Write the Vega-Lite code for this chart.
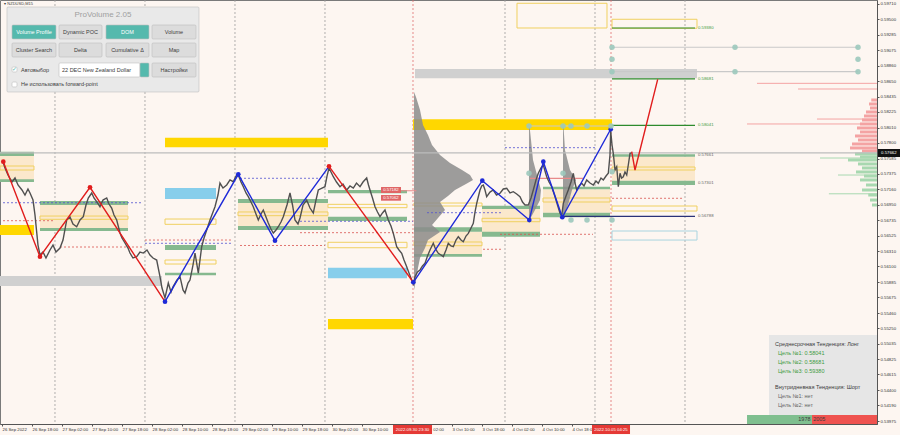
{
"$schema":"https://vega.github.io/schema/vega-lite/v6.json",
"width":877,"height":424,
"autosize":{"type":"none"},
"padding":{"left":0,"top":0,"right":23,"bottom":11},
"background":"#fdf6f1",
"config":{"view":{"stroke":"#7a7a7a","strokeWidth":1},"axis":{"labelFont":"Liberation Sans"},"text":{"font":"Liberation Sans"}},
"datasets":{
"vlines":[
{"h":14.13,"p":0.59765,"p2":0.53934,"kind":"vdot"},{"h":38.13,"p":0.59765,"p2":0.53934,"kind":"vdot"},{"h":62.13,"p":0.59765,"p2":0.53934,"kind":"vdot"},{"h":86.13,"p":0.59765,"p2":0.53934,"kind":"vdot"},{"h":134.13,"p":0.59765,"p2":0.53934,"kind":"vdot"},{"h":158.13,"p":0.59765,"p2":0.53934,"kind":"vdot"},{"h":182.13,"p":0.59765,"p2":0.53934,"kind":"vdot"},
{"h":109.6,"p":0.59765,"p2":0.53934,"kind":"vred"},{"h":162.4,"p":0.59765,"p2":0.53934,"kind":"vred"}],
"dom":[
{"h":201.33,"h2":233.33,"p":0.58619,"kind":"domredthin"},{"h":212.27,"h2":233.33,"p":0.58541,"kind":"domredthin"},{"h":217.33,"h2":233.33,"p":0.58128,"kind":"domredthin"},{"h":198.67,"h2":233.33,"p":0.58060,"kind":"domredthin"},
{"h":231.8,"h2":233.33,"p":0.58390,"kind":"domred"},{"h":231.2,"h2":233.33,"p":0.58335,"kind":"domred"},{"h":231.47,"h2":233.33,"p":0.58280,"kind":"domred"},{"h":230.4,"h2":233.33,"p":0.58225,"kind":"domred"},{"h":229.87,"h2":233.33,"p":0.58170,"kind":"domred"},{"h":229.33,"h2":233.33,"p":0.58115,"kind":"domred"},{"h":228.8,"h2":233.33,"p":0.58060,"kind":"domred"},{"h":228.0,"h2":233.33,"p":0.58005,"kind":"domred"},{"h":228.8,"h2":233.33,"p":0.57950,"kind":"domred"},{"h":227.47,"h2":233.33,"p":0.57895,"kind":"domred"},{"h":228.27,"h2":233.33,"p":0.57840,"kind":"domred"},{"h":226.67,"h2":233.33,"p":0.57785,"kind":"domred"},{"h":226.13,"h2":233.33,"p":0.57730,"kind":"domred"},{"h":229.33,"h2":233.33,"p":0.57688,"kind":"domred"},
{"h":227.47,"h2":233.33,"p":0.57647,"kind":"domgreen"},{"h":228.8,"h2":233.33,"p":0.57606,"kind":"domgreen"},{"h":225.6,"h2":233.33,"p":0.57565,"kind":"domgreen"},{"h":228.27,"h2":233.33,"p":0.57510,"kind":"domgreen"},{"h":229.33,"h2":233.33,"p":0.57455,"kind":"domgreen"},{"h":227.73,"h2":233.33,"p":0.57400,"kind":"domgreen"},{"h":229.87,"h2":233.33,"p":0.57344,"kind":"domgreen"},{"h":228.8,"h2":233.33,"p":0.57290,"kind":"domgreen"},{"h":230.4,"h2":233.33,"p":0.57221,"kind":"domgreen"},{"h":229.33,"h2":233.33,"p":0.57152,"kind":"domgreen"},{"h":231.0,"h2":233.33,"p":0.57083,"kind":"domgreen"},{"h":231.47,"h2":233.33,"p":0.57014,"kind":"domgreen"},{"h":232.0,"h2":233.33,"p":0.56946,"kind":"domgreen"},
{"h":218.13,"h2":233.33,"p":0.57592,"kind":"domgreenthin"},{"h":222.93,"h2":233.33,"p":0.57358,"kind":"domgreenthin"},{"h":220.5,"h2":233.33,"p":0.57100,"kind":"domgreenthin"}],
"zones":[
{"h":-0.53,"h2":8.53,"p":0.57620,"p2":0.57289,"kind":"tan"},{"h":10.13,"h2":33.6,"p":0.56946,"p2":0.56629,"kind":"tan"},{"h":62.93,"h2":86.93,"p":0.56973,"p2":0.56657,"kind":"tan"},{"h":109.87,"h2":128,"p":0.56578,"p2":0.56272,"kind":"tan"},{"h":128,"h2":143.47,"p":0.56891,"p2":0.56565,"kind":"tan"},{"h":144.27,"h2":162.13,"p":0.57162,"p2":0.56840,"kind":"tan"},{"h":162.67,"h2":184.8,"p":0.57610,"p2":0.57280,"kind":"tan"},
{"h":-0.53,"h2":42.67,"p":0.55969,"p2":0.55832,"kind":"gray"},{"h":110.13,"h2":185.33,"p":0.58816,"p2":0.58688,"kind":"gray"},
{"h":-0.53,"h2":8.53,"p":0.56671,"p2":0.56533,"kind":"gold"},{"h":43.47,"h2":86.93,"p":0.57871,"p2":0.57739,"kind":"gold"},{"h":86.93,"h2":109.6,"p":0.55378,"p2":0.55236,"kind":"gold"},{"h":109.6,"h2":162.67,"p":0.58124,"p2":0.57977,"kind":"gold"},
{"h":43.47,"h2":57.07,"p":0.57179,"p2":0.57028,"kind":"sky"},{"h":86.93,"h2":108,"p":0.56083,"p2":0.55938,"kind":"sky"},
{"h":-0.53,"h2":8.53,"p":0.57679,"p2":0.57620,"kind":"green"},{"h":-0.53,"h2":8.53,"p":0.57299,"p2":0.57262,"kind":"green"},{"h":10.13,"h2":33.6,"p":0.57001,"p2":0.56946,"kind":"green"},{"h":10.13,"h2":33.6,"p":0.56629,"p2":0.56588,"kind":"green"},{"h":43.47,"h2":57.07,"p":0.56396,"p2":0.56327,"kind":"green"},{"h":43.47,"h2":57.07,"p":0.56015,"p2":0.55979,"kind":"green"},{"h":62.93,"h2":86.93,"p":0.57028,"p2":0.56973,"kind":"green"},{"h":62.93,"h2":86.93,"p":0.56657,"p2":0.56602,"kind":"green"},{"h":86.93,"h2":108,"p":0.57152,"p2":0.57107,"kind":"green"},{"h":86.93,"h2":108,"p":0.56785,"p2":0.56726,"kind":"green"},{"h":109.87,"h2":128,"p":0.56639,"p2":0.56578,"kind":"green"},{"h":109.87,"h2":128,"p":0.56272,"p2":0.56235,"kind":"green"},{"h":128,"h2":143.47,"p":0.56936,"p2":0.56891,"kind":"green"},{"h":128,"h2":143.47,"p":0.56578,"p2":0.56510,"kind":"green"},{"h":144.27,"h2":162.13,"p":0.57197,"p2":0.57162,"kind":"green"},{"h":144.27,"h2":162.13,"p":0.56840,"p2":0.56779,"kind":"green"},{"h":162.67,"h2":184.8,"p":0.57643,"p2":0.57610,"kind":"green"},{"h":162.67,"h2":184.8,"p":0.57280,"p2":0.57221,"kind":"green"}],
"boxes":[
{"h":-0.53,"h2":8.53,"p":0.57482,"p2":0.57427,"kind":"ybox"},{"h":10.13,"h2":33.6,"p":0.56794,"p2":0.56749,"kind":"ybox"},{"h":43.47,"h2":57.07,"p":0.56753,"p2":0.56680,"kind":"ybox"},{"h":43.47,"h2":57.07,"p":0.56189,"p2":0.56134,"kind":"ybox"},{"h":62.93,"h2":86.93,"p":0.56850,"p2":0.56799,"kind":"ybox"},{"h":86.93,"h2":108,"p":0.56955,"p2":0.56909,"kind":"ybox"},{"h":86.93,"h2":108,"p":0.56433,"p2":0.56358,"kind":"ybox"},{"h":109.87,"h2":128,"p":0.56973,"p2":0.56932,"kind":"ybox"},{"h":109.87,"h2":128,"p":0.56437,"p2":0.56386,"kind":"ybox"},{"h":128,"h2":143.47,"p":0.56763,"p2":0.56716,"kind":"ybox"},{"h":144.27,"h2":162.13,"p":0.57042,"p2":0.56987,"kind":"ybox"},{"h":162.67,"h2":184.8,"p":0.57468,"p2":0.57427,"kind":"ybox"},{"h":162.67,"h2":185.33,"p":0.56932,"p2":0.56863,"kind":"ybox"},{"h":162.67,"h2":185.33,"p":0.59500,"p2":0.59376,"kind":"ybox"},{"h":137.33,"h2":161.33,"p":0.59720,"p2":0.59380,"kind":"ybox"},
{"h":162.67,"h2":185.33,"p":0.56588,"p2":0.56464,"kind":"lbox"}],
"prof":[
{"g":"a","h2":109.87,"h":109.87,"p":0.58500},{"g":"a","h2":109.87,"h":110.4,"p":0.58431},{"g":"a","h2":109.87,"h":111.47,"p":0.58252},{"g":"a","h2":109.87,"h":112.27,"p":0.58046},{"g":"a","h2":109.87,"h":113.6,"p":0.57908},{"g":"a","h2":109.87,"h":114.67,"p":0.57771},{"g":"a","h2":109.87,"h":116.8,"p":0.57633},{"g":"a","h2":109.87,"h":119.47,"p":0.57523},{"g":"a","h2":109.87,"h":122.67,"p":0.57427},{"g":"a","h2":109.87,"h":124.8,"p":0.57358},{"g":"a","h2":109.87,"h":125.6,"p":0.57290},{"g":"a","h2":109.87,"h":123.73,"p":0.57235},{"g":"a","h2":109.87,"h":120.8,"p":0.57152},{"g":"a","h2":109.87,"h":118.93,"p":0.57069},{"g":"a","h2":109.87,"h":116.8,"p":0.56987},{"g":"a","h2":109.87,"h":118.13,"p":0.56877},{"g":"a","h2":109.87,"h":116.27,"p":0.56767},{"g":"a","h2":109.87,"h":114.67,"p":0.56671},{"g":"a","h2":109.87,"h":116.8,"p":0.56574},{"g":"a","h2":109.87,"h":113.6,"p":0.56464},{"g":"a","h2":109.87,"h":112.8,"p":0.56355},{"g":"a","h2":109.87,"h":111.47,"p":0.56217},{"g":"a","h2":109.87,"h":110.93,"p":0.56079},{"g":"a","h2":109.87,"h":110.4,"p":0.55914},{"g":"a","h2":109.87,"h":109.87,"p":0.55777},
{"g":"b","h2":140.53,"h":140.67,"p":0.58032},{"g":"b","h2":140.53,"h":141.07,"p":0.57840},{"g":"b","h2":140.53,"h":141.6,"p":0.57565},{"g":"b","h2":140.53,"h":142.67,"p":0.57358},{"g":"b","h2":140.53,"h":143.73,"p":0.57152},{"g":"b","h2":140.53,"h":143.47,"p":0.57014},{"g":"b","h2":140.53,"h":142.13,"p":0.56877},{"g":"b","h2":140.53,"h":140.67,"p":0.56739},
{"g":"c","h2":149.6,"h":149.73,"p":0.58032},{"g":"c","h2":149.6,"h":150.13,"p":0.57702},{"g":"c","h2":149.6,"h":151.47,"p":0.57427},{"g":"c","h2":149.6,"h":153.07,"p":0.57290},{"g":"c","h2":149.6,"h":152.0,"p":0.57152},{"g":"c","h2":149.6,"h":150.93,"p":0.56946},{"g":"c","h2":149.6,"h":149.73,"p":0.56777}],
"hl":[
{"h":0.27,"h2":37.6,"p":0.56977,"kind":"bluedot"},{"h":0.27,"h2":14.13,"p":0.56730,"kind":"reddot"},{"h":15.47,"h2":37.6,"p":0.56368,"kind":"reddot"},{"h":38.13,"h2":61.6,"p":0.56464,"kind":"reddot"},{"h":38.13,"h2":61.6,"p":0.56419,"kind":"bluedot"},{"h":63.47,"h2":84.8,"p":0.57313,"kind":"bluedot"},{"h":63.47,"h2":86.13,"p":0.56389,"kind":"reddot"},{"h":79.47,"h2":109.6,"p":0.56722,"kind":"bluedot"},{"h":79.47,"h2":109.6,"p":0.56565,"kind":"reddot"},{"h":113.33,"h2":133.6,"p":0.56840,"kind":"bluedot"},{"h":128.27,"h2":133.6,"p":0.56337,"kind":"reddot"},{"h":132.8,"h2":157.6,"p":0.56543,"kind":"reddot"},{"h":134.13,"h2":158.13,"p":0.57734,"kind":"bluedot"},{"h":162.67,"h2":181.6,"p":0.57038,"kind":"reddot"}],
"sl":[
{"h":-0.53,"h2":233.33,"p":0.57662,"kind":"cur"},
{"h":162.67,"h2":184.8,"p":0.59380,"kind":"dgreen"},{"h":162.67,"h2":184.8,"p":0.58681,"kind":"dgreen"},{"h":162.67,"h2":184.8,"p":0.58041,"kind":"dgreen"},
{"h":149.6,"h2":184.8,"p":0.56788,"kind":"navy"},
{"h":162.67,"h2":228.27,"p":0.59115,"kind":"gline"},{"h":162.67,"h2":228.27,"p":0.58779,"kind":"gline"},{"h":140.53,"h2":162.4,"p":0.58032,"kind":"gline"},
{"h":101.6,"h2":110.5,"p":0.57142,"kind":"redthin"},{"h":140.8,"h2":154.93,"p":0.57313,"kind":"redthin"}],
"price":[
{"h":0.27,"p":0.57537},{"h":0.8,"p":0.57455},{"h":1.6,"p":0.57358},{"h":2.67,"p":0.57262},{"h":3.47,"p":0.57317},{"h":4.27,"p":0.57221},{"h":5.33,"p":0.57152},{"h":6.13,"p":0.57083},{"h":6.93,"p":0.57166},{"h":7.47,"p":0.57111},{"h":8.27,"p":0.57014},{"h":8.8,"p":0.56808},{"h":9.6,"p":0.56395},{"h":10.13,"p":0.56258},{"h":10.93,"p":0.56299},{"h":11.73,"p":0.56217},{"h":12.8,"p":0.56327},{"h":13.6,"p":0.56395},{"h":14.4,"p":0.56299},{"h":15.47,"p":0.56354},{"h":16.27,"p":0.56464},{"h":17.25,"p":0.56739},{"h":18.13,"p":0.56781},{"h":18.93,"p":0.56684},{"h":19.92,"p":0.56647},{"h":20.8,"p":0.56739},{"h":21.68,"p":0.56785},{"h":22.4,"p":0.56946},{"h":23.01,"p":0.57042},{"h":23.92,"p":0.57111},{"h":24.53,"p":0.57042},{"h":25.25,"p":0.56991},{"h":26.13,"p":0.56922},{"h":26.93,"p":0.57014},{"h":27.92,"p":0.57042},{"h":28.53,"p":0.56959},{"h":29.25,"p":0.56904},{"h":29.87,"p":0.56808},{"h":30.59,"p":0.56739},{"h":31.47,"p":0.56561},{"h":32.0,"p":0.56492},{"h":32.8,"p":0.56423},{"h":33.6,"p":0.56354},{"h":34.13,"p":0.56285},{"h":34.93,"p":0.56217},{"h":35.92,"p":0.56235},{"h":36.8,"p":0.56299},{"h":37.68,"p":0.56285},{"h":38.67,"p":0.56327},{"h":39.47,"p":0.56258},{"h":40.27,"p":0.56217},{"h":41.25,"p":0.56189},{"h":42.13,"p":0.55960},{"h":42.67,"p":0.55804},{"h":43.47,"p":0.55667},{"h":44.35,"p":0.55873},{"h":45.07,"p":0.55749},{"h":45.6,"p":0.55822},{"h":46.67,"p":0.55914},{"h":47.47,"p":0.55960},{"h":48.27,"p":0.55777},{"h":48.8,"p":0.55735},{"h":49.6,"p":0.55873},{"h":50.13,"p":0.55914},{"h":50.93,"p":0.56120},{"h":51.47,"p":0.56285},{"h":52.35,"p":0.56010},{"h":53.25,"p":0.56372},{"h":53.87,"p":0.56492},{"h":54.59,"p":0.56602},{"h":55.47,"p":0.56739},{"h":56.27,"p":0.56849},{"h":56.8,"p":0.56922},{"h":57.6,"p":0.57083},{"h":58.13,"p":0.57248},{"h":58.93,"p":0.57179},{"h":59.92,"p":0.57221},{"h":60.8,"p":0.57290},{"h":61.68,"p":0.57266},{"h":62.4,"p":0.57344},{"h":63.01,"p":0.57358},{"h":63.73,"p":0.57262},{"h":64.35,"p":0.57197},{"h":65.07,"p":0.57111},{"h":65.68,"p":0.57060},{"h":66.4,"p":0.56987},{"h":67.01,"p":0.56922},{"h":67.73,"p":0.56822},{"h":68.35,"p":0.56739},{"h":69.07,"p":0.56822},{"h":69.68,"p":0.56877},{"h":70.4,"p":0.56781},{"h":71.01,"p":0.56698},{"h":71.73,"p":0.56616},{"h":72.35,"p":0.56561},{"h":73.07,"p":0.56602},{"h":73.68,"p":0.56647},{"h":74.4,"p":0.56712},{"h":75.01,"p":0.56785},{"h":76.0,"p":0.56946},{"h":76.8,"p":0.57111},{"h":77.47,"p":0.56946},{"h":78.13,"p":0.56739},{"h":78.93,"p":0.56684},{"h":79.47,"p":0.56767},{"h":80.27,"p":0.56946},{"h":81.25,"p":0.57014},{"h":82.13,"p":0.56904},{"h":83.01,"p":0.56836},{"h":83.73,"p":0.57014},{"h":84.35,"p":0.57152},{"h":85.33,"p":0.57179},{"h":86.13,"p":0.57197},{"h":86.67,"p":0.57344},{"h":87.2,"p":0.57455},{"h":87.73,"p":0.57400},{"h":88.35,"p":0.57335},{"h":89.2,"p":0.57262},{"h":90.13,"p":0.57197},{"h":90.93,"p":0.57235},{"h":91.92,"p":0.57152},{"h":92.8,"p":0.57207},{"h":93.68,"p":0.57179},{"h":94.53,"p":0.57248},{"h":95.47,"p":0.57197},{"h":96.27,"p":0.57262},{"h":97.25,"p":0.57317},{"h":97.73,"p":0.57221},{"h":98.13,"p":0.57152},{"h":98.8,"p":0.57042},{"h":99.47,"p":0.56922},{"h":100.13,"p":0.56849},{"h":100.8,"p":0.56785},{"h":101.47,"p":0.56836},{"h":102.13,"p":0.56877},{"h":103.01,"p":0.56739},{"h":103.73,"p":0.56657},{"h":104.35,"p":0.56556},{"h":104.8,"p":0.56464},{"h":105.25,"p":0.56372},{"h":105.87,"p":0.56327},{"h":106.59,"p":0.56281},{"h":107.2,"p":0.56189},{"h":107.92,"p":0.56097},{"h":108.53,"p":0.56010},{"h":109.25,"p":0.55914},{"h":109.68,"p":0.55859},{"h":110.13,"p":0.55960},{"h":110.8,"p":0.56024},{"h":111.47,"p":0.56052},{"h":112.13,"p":0.56107},{"h":112.8,"p":0.56144},{"h":113.47,"p":0.56244},{"h":114.13,"p":0.56327},{"h":115.01,"p":0.56419},{"h":115.6,"p":0.56341},{"h":116.35,"p":0.56281},{"h":117.07,"p":0.56258},{"h":117.68,"p":0.56235},{"h":118.4,"p":0.56327},{"h":119.01,"p":0.56419},{"h":119.73,"p":0.56382},{"h":120.35,"p":0.56372},{"h":121.07,"p":0.56464},{"h":121.68,"p":0.56510},{"h":122.4,"p":0.56464},{"h":123.01,"p":0.56441},{"h":123.73,"p":0.56519},{"h":124.35,"p":0.56556},{"h":125.07,"p":0.56629},{"h":125.68,"p":0.56694},{"h":126.13,"p":0.56849},{"h":126.59,"p":0.56969},{"h":127.07,"p":0.57069},{"h":127.47,"p":0.57152},{"h":127.92,"p":0.57207},{"h":128.35,"p":0.57221},{"h":128.8,"p":0.57152},{"h":129.25,"p":0.57060},{"h":130.13,"p":0.57124},{"h":131.01,"p":0.57152},{"h":131.87,"p":0.57083},{"h":132.8,"p":0.57107},{"h":133.68,"p":0.57166},{"h":134.59,"p":0.57175},{"h":135.47,"p":0.57111},{"h":136.35,"p":0.57129},{"h":137.25,"p":0.57097},{"h":138.13,"p":0.57060},{"h":138.8,"p":0.56987},{"h":139.47,"p":0.56946},{"h":140.35,"p":0.56946},{"h":141.07,"p":0.57042},{"h":141.68,"p":0.57152},{"h":142.4,"p":0.57290},{"h":143.01,"p":0.57382},{"h":143.73,"p":0.57455},{"h":144.35,"p":0.57496},{"h":144.8,"p":0.57413},{"h":145.25,"p":0.57335},{"h":145.87,"p":0.57262},{"h":146.59,"p":0.57197},{"h":147.47,"p":0.57060},{"h":148.13,"p":0.56946},{"h":148.8,"p":0.56832},{"h":149.25,"p":0.56794},{"h":149.68,"p":0.56969},{"h":150.4,"p":0.57069},{"h":151.01,"p":0.57152},{"h":151.73,"p":0.57262},{"h":152.35,"p":0.57382},{"h":152.8,"p":0.57248},{"h":153.25,"p":0.57152},{"h":153.87,"p":0.57207},{"h":154.59,"p":0.57244},{"h":155.2,"p":0.57207},{"h":155.92,"p":0.57290},{"h":156.8,"p":0.57248},{"h":157.68,"p":0.57221},{"h":158.4,"p":0.57276},{"h":159.01,"p":0.57244},{"h":159.73,"p":0.57317},{"h":160.35,"p":0.57290},{"h":161.07,"p":0.57344},{"h":161.68,"p":0.57382},{"h":162.13,"p":0.57633},{"h":162.32,"p":0.57963},{"h":162.67,"p":0.57771},{"h":163.01,"p":0.57657},{"h":163.47,"p":0.57427},{"h":163.92,"p":0.57472},{"h":164.35,"p":0.57197},{"h":164.8,"p":0.57382},{"h":165.2,"p":0.57317},{"h":165.68,"p":0.57335},{"h":166.13,"p":0.57400},{"h":166.59,"p":0.57358},{"h":167.01,"p":0.57496},{"h":167.47,"p":0.57657},{"h":167.87,"p":0.57661}],
"zz":[
{"seg":"r1","kind":"zr","h":0.35,"p":0.57541},{"seg":"r1","kind":"zr","h":10.13,"p":0.56235},{"seg":"r1","kind":"zr","h":23.47,"p":0.57189},{"seg":"r1","kind":"zr","h":43.47,"p":0.55616},
{"seg":"b1","kind":"zb","h":43.47,"p":0.55616},{"seg":"b1","kind":"zb","h":63.01,"p":0.57368},{"seg":"b1","kind":"zb","h":72.8,"p":0.56455},{"seg":"b1","kind":"zb","h":87.2,"p":0.57478},
{"seg":"r2","kind":"zr","h":87.2,"p":0.57478},{"seg":"r2","kind":"zr","h":109.68,"p":0.55883},
{"seg":"b2","kind":"zb","h":109.68,"p":0.55883},{"seg":"b2","kind":"zb","h":128.08,"p":0.57280},{"seg":"b2","kind":"zb","h":140.61,"p":0.56739},{"seg":"b2","kind":"zb","h":144.35,"p":0.57541},{"seg":"b2","kind":"zb","h":149.41,"p":0.56777},{"seg":"b2","kind":"zb","h":162.32,"p":0.57987},
{"seg":"r3","kind":"zr","h":167.92,"p":0.57679},{"seg":"r3","kind":"zr","h":168.8,"p":0.57427},{"seg":"r3","kind":"zr","h":174.85,"p":0.58674}],
"zd":[
{"kind":"zr","h":0.35,"p":0.57541},{"kind":"zr","h":10.13,"p":0.56235},{"kind":"zr","h":23.47,"p":0.57189},{"kind":"zr","h":87.2,"p":0.57478},
{"kind":"zb","h":43.47,"p":0.55616},{"kind":"zb","h":63.01,"p":0.57368},{"kind":"zb","h":72.8,"p":0.56455},{"kind":"zb","h":109.68,"p":0.55883},{"kind":"zb","h":128.08,"p":0.57280},{"kind":"zb","h":140.61,"p":0.56739},{"kind":"zb","h":144.35,"p":0.57541},{"kind":"zb","h":149.41,"p":0.56777},{"kind":"zb","h":162.32,"p":0.57987}],
"teal":[
{"h":140.53,"p":0.58032},{"h":149.6,"p":0.58032},{"h":151.73,"p":0.58032},{"h":156,"p":0.58032},{"h":162.4,"p":0.58032},
{"h":140.53,"p":0.57382},{"h":149.6,"p":0.57382},{"h":162.67,"p":0.57404},
{"h":151.73,"p":0.56739},{"h":156,"p":0.56739},{"h":162.67,"p":0.56739},
{"h":162.67,"p":0.59115},{"h":195.47,"p":0.59115},{"h":228.27,"p":0.59115},
{"h":162.67,"p":0.58949},{"h":228.27,"p":0.58949},
{"h":162.67,"p":0.58779},{"h":195.47,"p":0.58779},{"h":228.27,"p":0.58779}],
"tags":[
{"h":101.07,"h2":106.4,"p":0.57193,"p2":0.57111,"kind":"redlbl"},{"h":101.07,"h2":106.4,"p":0.57083,"p2":0.57005,"kind":"redlbl"},
{"h":204.53,"h2":233.33,"p":0.55158,"p2":0.54058,"kind":"infop"},
{"h":198.67,"h2":216,"p":0.54058,"p2":0.53934,"kind":"barG"},{"h":216,"h2":233.33,"p":0.54058,"p2":0.53934,"kind":"barR"}],
"outer":[
{"h":104.27,"h2":114.67,"p":0.53920,"p2":0.53796,"kind":"redbox"},{"h":157.33,"h2":167.47,"p":0.53920,"p2":0.53796,"kind":"redbox"},
{"h":233.6,"h2":239.47,"p":0.57716,"p2":0.57606,"kind":"black"}],
"ui":[
{"h":1.33,"h2":52.53,"p":0.59669,"p2":0.58500,"kind":"panel"},
{"h":2.67,"h2":14.4,"p":0.59421,"p2":0.59229,"kind":"btnteal"},{"h":15.2,"h2":26.67,"p":0.59421,"p2":0.59229,"kind":"btngray"},{"h":27.73,"h2":39.2,"p":0.59421,"p2":0.59229,"kind":"btnteal"},{"h":40,"h2":51.73,"p":0.59421,"p2":0.59229,"kind":"btngray"},
{"h":2.67,"h2":14.4,"p":0.59174,"p2":0.58981,"kind":"btngray"},{"h":15.2,"h2":26.67,"p":0.59174,"p2":0.58981,"kind":"btngray"},{"h":27.73,"h2":39.2,"p":0.59174,"p2":0.58981,"kind":"btngray"},{"h":40,"h2":51.73,"p":0.59174,"p2":0.58981,"kind":"btngray"},
{"h":2.67,"h2":4,"p":0.58844,"p2":0.58775,"kind":"white"},{"h":15.2,"h2":36.8,"p":0.58899,"p2":0.58706,"kind":"white"},{"h":36.8,"h2":39.2,"p":0.58899,"p2":0.58706,"kind":"btnteal"},{"h":40,"h2":51.73,"p":0.58899,"p2":0.58706,"kind":"btngray"},
{"h":2.67,"h2":4,"p":0.58637,"p2":0.58569,"kind":"white"}],
"texts":[
{"grp":"lvl","t":"0.59380","h":185.6,"p":0.59380,"kind":"txtgreen"},{"grp":"lvl","t":"0.58681","h":185.6,"p":0.58681,"kind":"txtgreen"},{"grp":"lvl","t":"0.58041","h":185.6,"p":0.58041,"kind":"txtgreen"},{"grp":"lvl","t":"0.57661","h":185.6,"p":0.57627,"kind":"txtlvl"},{"grp":"lvl","t":"0.57301","h":185.6,"p":0.57250,"kind":"txtlvl"},{"grp":"lvl","t":"0.56788","h":185.6,"p":0.56788,"kind":"txtlvl"},
{"grp":"c4","t":"0.57182","h":103.73,"p":0.57152,"kind":"txtw"},{"grp":"c4","t":"0.57062","h":103.73,"p":0.57044,"kind":"txtw"},
{"grp":"title","t":"ProVolume 2.05","h":26.93,"p":0.59559,"kind":"txtg"},
{"grp":"c55","t":"Volume Profile","h":8.53,"p":0.59325,"kind":"txtw"},{"grp":"c55","t":"Dynamic POC","h":20.93,"p":0.59325,"kind":"txtd"},{"grp":"c55","t":"DOM","h":33.47,"p":0.59325,"kind":"txtw"},{"grp":"c55","t":"Volume","h":45.87,"p":0.59325,"kind":"txtd"},
{"grp":"c55","t":"Cluster Search","h":8.53,"p":0.59077,"kind":"txtd"},{"grp":"c55","t":"Delta","h":20.93,"p":0.59077,"kind":"txtd"},{"grp":"c55","t":"Cumulative Δ","h":33.47,"p":0.59077,"kind":"txtd"},{"grp":"c55","t":"Map","h":45.87,"p":0.59077,"kind":"txtd"},
{"grp":"c55","t":"Настройки","h":45.87,"p":0.58802,"kind":"txtd"},{"grp":"c55","t":"✓","h":3.4,"p":0.58815,"kind":"btnteal"},
{"grp":"l55","t":"Автовыбор","h":5.07,"p":0.58802,"kind":"txtd"},{"grp":"l55","t":"22 DEC New Zealand Dollar","h":16,"p":0.58802,"kind":"txtd"},{"grp":"l55","t":"Не использовать forward-point","h":5.07,"p":0.58603,"kind":"txtd"},
{"grp":"l4","t":"▾ NZDUSD,M15","h":0.6,"p":0.59712,"kind":"txtd"},
{"grp":"l55","t":"Среднесрочная Тенденция: Лонг","h":206.13,"p":0.55034,"kind":"txtd"},{"grp":"l55","t":"Цель №1: 0.58041","h":206.93,"p":0.54910,"kind":"txtgreen"},{"grp":"l55","t":"Цель №2: 0.58681","h":206.93,"p":0.54786,"kind":"txtgreen"},{"grp":"l55","t":"Цель №3: 0.59380","h":206.93,"p":0.54663,"kind":"txtgreen"},
{"grp":"l55","t":"Внутридневная Тенденция: Шорт","h":206.13,"p":0.54443,"kind":"txtd"},{"grp":"l55","t":"Цель №1: нет","h":206.93,"p":0.54319,"kind":"txtlvl"},{"grp":"l55","t":"Цель №2: нет","h":206.93,"p":0.54195,"kind":"txtlvl"},
{"grp":"r5","t":"1978","h":215.6,"p":0.53996,"kind":"txtd"},{"grp":"l5","t":"2005","h":216.3,"p":0.53996,"kind":"txtd"},
{"grp":"c4","t":"2022.09.30 23:30","h":109.47,"p":0.53858,"kind":"txtw"},{"grp":"c4","t":"2022.10.05 04:25","h":162.4,"p":0.53858,"kind":"txtw"},{"grp":"c4","t":"0.57662","h":236.5,"p":0.57662,"kind":"txtw"},
{"grp":"l4d","t":"02:00","h":115.0,"p":0.53858,"kind":"txtd"}]
},
"encoding":{
"x":{"field":"h","type":"quantitative","scale":{"domain":[-0.53,233.33],"nice":false,"zero":false},
 "axis":{"orient":"bottom","values":[0,8,16,24,32,40,48,56,64,72,80,88,96,112,120,128,136,144,152],
 "labelExpr":"['26 Sep 2022','26 Sep 18:00','27 Sep 02:00','27 Sep 10:00','27 Sep 18:00','28 Sep 02:00','28 Sep 10:00','28 Sep 18:00','29 Sep 02:00','29 Sep 10:00','29 Sep 18:00','30 Sep 02:00','30 Sep 10:00','','','3 Oct 10:00','3 Oct 18:00','4 Oct 02:00','4 Oct 10:00','4 Oct 18:00',''][round(datum.value/8)]",
 "labelAlign":"left","labelFontSize":4.3,"labelColor":"#333","tickSize":2,"tickColor":"#555","domainColor":"#555","labelPadding":1,"grid":false,"title":null,"labelOverlap":false,"labelBound":false,"labelFlush":false}},
"y":{"field":"p","type":"quantitative","scale":{"domain":[0.53934,0.59765],"nice":false,"zero":false},
 "axis":{"orient":"right","values":[0.5971,0.595,0.59285,0.59075,0.5886,0.5865,0.58435,0.58225,0.5801,0.578,0.57585,0.57375,0.5716,0.5695,0.56735,0.56525,0.5631,0.561,0.55885,0.55675,0.5546,0.5525,0.55035,0.54825,0.54615,0.544,0.5419,0.53975],
 "format":".5f","labelFontSize":4.3,"labelColor":"#333","tickSize":2,"tickColor":"#555","domainColor":"#555","labelPadding":1,"grid":false,"title":null,"labelOverlap":false,"labelBound":false,"labelFlush":false}},
"color":{"field":"kind","type":"nominal","legend":null,"scale":{
 "domain":["gold","sky","green","tan","gray","ybox","lbox","reddot","bluedot","dgreen","navy","gline","redthin","cur","domred","domgreen","domredthin","domgreenthin","zr","zb","btnteal","btngray","panel","white","barG","barR","redbox","black","redlbl","infop","txtw","txtd","txtg","txtgreen","txtlvl","vdot","vred"],
 "range":["#ffd700","#87ceeb","#86b98f","#fbe8cc","#d0d0d0","#f0d060","#a9d4e0","#d9534f","#5050d0","#2e8b2e","#2a3278","#c9c9c9","#e88a8a","#bcbcbc","#f4a3a3","#a8d8b0","#f4a3a3","#a8d8b0","#e11d1d","#1e2ad8","#55b9ad","#dcdcdc","#e9e9e9","#ffffff","#7fbf8f","#ef5350","#e53935","#111111","#e06666","#e6e6e6","#ffffff","#3c3c3c","#a0a0a0","#3f9b3f","#666666","#9a9a9a","#e07070"]}}
},
"layer":[
{"data":{"name":"vlines"},"mark":{"type":"rule","strokeDash":[2,2],"strokeWidth":0.8},"encoding":{"y2":{"field":"p2"}}},
{"data":{"name":"dom"},"transform":[{"filter":"datum.kind=='domred'||datum.kind=='domgreen'"}],"mark":{"type":"rule","strokeWidth":3},"encoding":{"x2":{"field":"h2"}}},
{"data":{"name":"dom"},"transform":[{"filter":"datum.kind=='domredthin'||datum.kind=='domgreenthin'"}],"mark":{"type":"rule","strokeWidth":1},"encoding":{"x2":{"field":"h2"}}},
{"data":{"name":"zones"},"mark":{"type":"rect"},"encoding":{"x2":{"field":"h2"},"y2":{"field":"p2"}}},
{"data":{"name":"boxes"},"mark":{"type":"rect","filled":false,"strokeWidth":1},"encoding":{"x2":{"field":"h2"},"y2":{"field":"p2"}}},
{"data":{"name":"prof"},"mark":{"type":"area","orient":"horizontal","opacity":0.85},"encoding":{"x2":{"field":"h2"},"detail":{"field":"g"},"color":{"value":"#8c8c8c"}}},
{"data":{"name":"hl"},"mark":{"type":"rule","strokeDash":[2,2],"strokeWidth":0.8},"encoding":{"x2":{"field":"h2"}}},
{"data":{"name":"sl"},"mark":{"type":"rule","strokeWidth":1.2},"encoding":{"x2":{"field":"h2"}}},
{"data":{"name":"price"},"mark":{"type":"line","strokeWidth":1.4,"interpolate":"linear"},"encoding":{"color":{"value":"#505050"}}},
{"data":{"name":"zz"},"mark":{"type":"line","strokeWidth":1.4},"encoding":{"detail":{"field":"seg"}}},
{"data":{"name":"zd"},"mark":{"type":"point","filled":true,"size":22,"opacity":1}},
{"data":{"name":"teal"},"mark":{"type":"point","filled":true,"size":30,"opacity":0.9},"encoding":{"color":{"value":"#9cc9bd"}}},
{"data":{"name":"tags"},"mark":{"type":"rect"},"encoding":{"x2":{"field":"h2"},"y2":{"field":"p2"}}},
{"data":{"name":"ui"},"mark":{"type":"rect","stroke":"#bdbdbd","strokeWidth":0.6,"cornerRadius":1},"encoding":{"x2":{"field":"h2"},"y2":{"field":"p2"}}},
{"data":{"name":"outer"},"mark":{"type":"rect","clip":false},"encoding":{"x2":{"field":"h2"},"y2":{"field":"p2"}}},
{"data":{"name":"texts"},"transform":[{"filter":"datum.grp=='lvl'"}],"mark":{"type":"text","align":"left","baseline":"middle","fontSize":4.3},"encoding":{"text":{"field":"t"}}},
{"data":{"name":"texts"},"transform":[{"filter":"datum.grp=='c4'"}],"mark":{"type":"text","align":"center","baseline":"middle","fontSize":4.3,"clip":false},"encoding":{"text":{"field":"t"}}},
{"data":{"name":"texts"},"transform":[{"filter":"datum.grp=='l4d'"}],"mark":{"type":"text","align":"left","baseline":"middle","fontSize":4.3,"clip":false},"encoding":{"text":{"field":"t"}}},
{"data":{"name":"texts"},"transform":[{"filter":"datum.grp=='title'"}],"mark":{"type":"text","align":"center","baseline":"middle","fontSize":8},"encoding":{"text":{"field":"t"}}},
{"data":{"name":"texts"},"transform":[{"filter":"datum.grp=='c55'"}],"mark":{"type":"text","align":"center","baseline":"middle","fontSize":5.5},"encoding":{"text":{"field":"t"}}},
{"data":{"name":"texts"},"transform":[{"filter":"datum.grp=='l55'"}],"mark":{"type":"text","align":"left","baseline":"middle","fontSize":5.5},"encoding":{"text":{"field":"t"}}},
{"data":{"name":"texts"},"transform":[{"filter":"datum.grp=='l4'"}],"mark":{"type":"text","align":"left","baseline":"middle","fontSize":4},"encoding":{"text":{"field":"t"}}},
{"data":{"name":"texts"},"transform":[{"filter":"datum.grp=='r5'"}],"mark":{"type":"text","align":"right","baseline":"middle","fontSize":5.5},"encoding":{"text":{"field":"t"}}},
{"data":{"name":"texts"},"transform":[{"filter":"datum.grp=='l5'"}],"mark":{"type":"text","align":"left","baseline":"middle","fontSize":5.5},"encoding":{"text":{"field":"t"}}}
]
}
